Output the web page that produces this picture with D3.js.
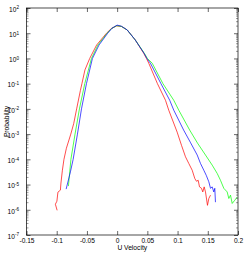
<!DOCTYPE html>
<html>
<head>
<meta charset="utf-8">
<script src="https://cdn.jsdelivr.net/npm/d3@7"></script>
<style>
  html, body { margin: 0; padding: 0; background: #fff; }
  svg { display: block; }
</style>
</head>
<body>
<div id="chart"></div>
<script>
// x tick labels
const X_TICKS = [-0.15, -0.1, -0.05, 0, 0.05, 0.1, 0.15, 0.2]
const X_TICK_LABELS = ['-0.15', '-0.1', '-0.05', '0', '0.05', '0.1', '0.15', '0.2']
const Y_EXPONENTS = [2, 1, 0, -1, -2, -3, -4, -5, -6, -7]

// red series (velocity, probability)
const uRed = [-0.0993, -0.1022, -0.0997, -0.0980, -0.0939, -0.0930, -0.0906, -0.0880, -0.0840, -0.0767,
  -0.0719, -0.0670, -0.0608, -0.0583, -0.0533, -0.0454, -0.0340, -0.0177, -0.0094, -0.0010,
  0.0070, 0.0166, 0.0300, 0.0440, 0.0485, 0.0523, 0.0667, 0.0800, 0.0854, 0.0993,
  0.1065, 0.1131, 0.1185, 0.1242, 0.1285, 0.1313, 0.1341, 0.1363, 0.1396, 0.1417,
  0.1440, 0.1462, 0.1495, 0.1517, 0.1545]
const pRed = [9.5e-7, 1.66e-6, 2.19e-6, 5.0e-6, 6.0e-6, 1.15e-5, 3.7e-5, 1.0e-4, 2.75e-4, 1.0e-3,
  2.6e-3, 1.0e-2, 5.4e-2, 0.10, 0.35, 1.0, 3.4, 10, 15.5, 19.5,
  18.6, 13.5, 5.4, 1.6, 1.0, 0.65, 0.10, 2.2e-2, 8.9e-3, 1.2e-3,
  3.6e-4, 1.26e-4, 6.9e-5, 3.7e-5, 1.74e-5, 1.35e-5, 1.48e-5, 8.1e-6, 7.1e-6, 5.1e-6,
  8.1e-6, 5.1e-6, 1.5e-6, 2.8e-6, 3.8e-6]

// green series
const uGreen = [-0.0806, -0.0765, -0.0697, -0.0624, -0.0536, -0.0425, -0.0318, -0.0166, -0.0090, -0.0005,
  0.0070, 0.0166, 0.0300, 0.0450, 0.0500, 0.0580, 0.0758, 0.0937, 0.1020, 0.1200,
  0.1330, 0.1462, 0.1573, 0.1656, 0.1710, 0.1765, 0.1821, 0.1848, 0.1876, 0.1904,
  0.1947, 0.1987]
const pGreen = [8.7e-6, 1.0e-4, 1.0e-3, 1.0e-2, 0.10, 1.0, 3.4, 10, 15.5, 20,
  18.6, 13.5, 5.4, 1.6, 1.0, 0.65, 0.10, 2.2e-2, 8.9e-3, 1.45e-3,
  4.4e-4, 1.48e-4, 5.9e-5, 2.75e-5, 1.48e-5, 7.1e-6, 5.1e-6, 2.8e-6, 3.8e-6, 1.78e-6,
  2.4e-6, 3.2e-6]

// blue series
const uBlue = [-0.0844, -0.0773, -0.0728, -0.0657, -0.0590, -0.0508, -0.0409, -0.0300, -0.0156, -0.0085,
  0.0000, 0.0070, 0.0166, 0.0300, 0.0445, 0.0492, 0.0550, 0.0725, 0.0870, 0.0937,
  0.1100, 0.1210, 0.1325, 0.1379, 0.1434, 0.1474, 0.1517, 0.1545, 0.1573, 0.1599,
  0.1616, 0.1627]
const pBlue = [6.6e-6, 3.2e-5, 1.0e-4, 1.0e-3, 1.0e-2, 0.10, 1.0, 3.4, 10, 15.8,
  21, 19, 13.5, 5.4, 1.6, 1.0, 0.65, 0.10, 2.2e-2, 8.9e-3,
  1.45e-3, 4.8e-4, 1.48e-4, 6.9e-5, 3.7e-5, 2.34e-5, 1.29e-5, 7.1e-6, 8.1e-6, 5.1e-6,
  7.1e-6, 2.0e-6]

const SERIES = [
  { key: 'red',   color: '#ff0000', u: uRed,   p: pRed },
  { key: 'green', color: '#00ff00', u: uGreen, p: pGreen },
  { key: 'blue',  color: '#0000ff', u: uBlue,  p: pBlue },
]

const W = 249, H = 253
const margin = { top: 8, right: 11, bottom: 18, left: 26.5 }
const width  = W - margin.left - margin.right
const height = H - margin.top - margin.bottom
const FONT = "'Liberation Sans', Arial, Helvetica, sans-serif"

const svg = d3.select('#chart').append('svg')
  .attr('width', W).attr('height', H)
  .style('font-family', FONT)

const g = svg.append('g').attr('transform', `translate(${margin.left},${margin.top})`)

const x = d3.scaleLinear().domain([-0.15, 0.2]).range([0, width])
const y = d3.scaleLog().domain([1e-7, 1e2]).range([height, 0])

const decades = Y_EXPONENTS.map(e => Math.pow(10, e))
const minors = []
for (let e = -7; e < 2; e++) for (let m = 2; m <= 9; m++) minors.push(m * Math.pow(10, e))

function styleAxis(a) {
  a.select('.domain').remove()
  a.selectAll('line').attr('stroke', '#000').attr('stroke-width', 0.6)
  a.selectAll('text').attr('fill', '#000').attr('font-size', '6.6px').attr('font-family', FONT)
}

// curves
const line = d3.line().x(d => x(d[0])).y(d => y(d[1]))
SERIES.forEach(s => {
  g.append('path')
    .datum(s.u.map((u, i) => [u, s.p[i]]))
    .attr('fill', 'none')
    .attr('stroke', s.color)
    .attr('stroke-width', 0.7)
    .attr('stroke-linejoin', 'round')
    .attr('d', line)
})

// x axes (ticks inward)
const xb = g.append('g').attr('transform', `translate(0,${height})`)
  .call(d3.axisBottom(x).tickValues(X_TICKS).tickSize(-4).tickPadding(3)
    .tickFormat((d, i) => X_TICK_LABELS[i]))
styleAxis(xb)
const xt = g.append('g')
  .call(d3.axisTop(x).tickValues(X_TICKS).tickSize(-4).tickFormat(''))
styleAxis(xt)

// y axes: major + minor
const yl = g.append('g')
  .call(d3.axisLeft(y).tickValues(decades).tickSize(-4).tickPadding(7.5).tickFormat(''))
styleAxis(yl)
yl.selectAll('.tick text').each(function(d, i) {
  const t = d3.select(this).attr('dy', '0.5em')
  t.append('tspan').text('10')
  t.append('tspan').attr('dy', '-0.55em').attr('font-size', '4.6px').text(Y_EXPONENTS[i])
})
const ylm = g.append('g')
  .call(d3.axisLeft(y).tickValues(minors).tickSize(-2).tickFormat(''))
styleAxis(ylm)
ylm.selectAll('line').attr('stroke-width', 0.4)

const yr = g.append('g').attr('transform', `translate(${width},0)`)
  .call(d3.axisRight(y).tickValues(decades).tickSize(-4).tickFormat(''))
styleAxis(yr)
const yrm = g.append('g').attr('transform', `translate(${width},0)`)
  .call(d3.axisRight(y).tickValues(minors).tickSize(-2).tickFormat(''))
styleAxis(yrm)
yrm.selectAll('line').attr('stroke-width', 0.4)

// box
g.append('rect')
  .attr('width', width).attr('height', height)
  .attr('fill', 'none').attr('stroke', '#000').attr('stroke-width', 0.7)

// axis labels
svg.append('text')
  .attr('x', margin.left + width / 2).attr('y', H - 3)
  .attr('text-anchor', 'middle').attr('font-size', '6.7px').attr('fill', '#000')
  .text('U Velocity')

svg.append('text')
  .attr('transform', `translate(8.5,${margin.top + height / 2}) rotate(-90)`)
  .attr('text-anchor', 'middle').attr('font-size', '6.7px').attr('fill', '#000')
  .text('Probability')
</script>
</body>
</html>
